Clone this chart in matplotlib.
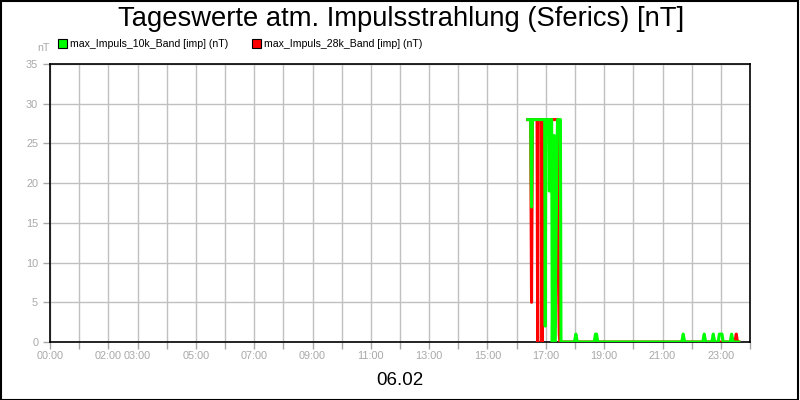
import matplotlib.pyplot as plt
from matplotlib.patches import Patch, Rectangle

plt.rcParams['font.family'] = ['Liberation Sans', 'DejaVu Sans']

# hours of the day and values (nT)
t_10k = [16.38, 16.48, 16.51, 16.54, 16.96, 16.98, 17.00, 17.10, 17.12, 17.14,
         17.20, 17.22, 17.29, 17.31, 17.40, 17.50, 17.52, 17.98, 18.03, 18.08,
         18.66, 18.70, 18.74, 18.78, 21.66, 21.71, 21.76, 22.38, 22.43, 22.48,
         22.69, 22.74, 22.79, 22.91, 22.95, 23.00, 23.04, 23.08, 23.32, 23.37,
         23.42, 23.62]
v_10k = [28, 28, 17, 28, 28, 2, 28, 28, 19, 28,
         28, 0, 26, 0, 28, 28, 0, 0, 1, 0,
         0, 1, 1, 0, 0, 1, 0, 0, 1, 0,
         0, 1, 0, 0, 1, 1, 1, 0, 0, 1,
         0, 0]

t_28k = [16.38, 16.48, 16.51, 16.54, 16.70, 16.72, 16.74, 16.85, 16.87, 16.89,
         17.13, 17.14, 17.15, 17.40, 17.43, 17.46, 17.48, 18.70, 18.72, 18.74,
         23.48, 23.53, 23.57, 23.62]
v_28k = [28, 28, 5, 28, 28, 0, 28, 28, 0, 28,
         28, 24, 28, 28, 9, 1, 0, 0, 0.3, 0,
         0, 1, 0, 0]

hour_ticks = list(range(25))
hour_labels = {0: '00:00', 2: '02:00', 3: '03:00', 5: '05:00', 7: '07:00',
               9: '09:00', 11: '11:00', 13: '13:00', 15: '15:00', 17: '17:00',
               19: '19:00', 21: '21:00', 23: '23:00'}
y_ticks = [0, 5, 10, 15, 20, 25, 30, 35]

names = ['max_Impuls_10k_Band [imp] (nT)', 'max_Impuls_28k_Band [imp] (nT)']
colors = ['#00ff00', '#ff0000']
grey = '#a8a8a8'

fig = plt.figure(figsize=(8, 4), dpi=100)
ax = fig.add_axes([0.0625, 0.145, 0.875, 0.695])

ax.plot(t_28k, v_28k, color=colors[1], lw=2.2, solid_joinstyle='round', zorder=3)
ax.plot(t_10k, v_10k, color=colors[0], lw=2.2, solid_joinstyle='round', zorder=4)

ax.set_xlim(0, 24)
ax.set_ylim(0, 35)
ax.set_xticks(hour_ticks)
ax.set_xticklabels([hour_labels.get(h, '') for h in hour_ticks])
ax.set_yticks(y_ticks)
ax.grid(True, color='#c0c0c0', lw=1)
ax.set_axisbelow(True)
ax.tick_params(colors=grey, labelsize=7.8, length=5, width=1)
ax.tick_params(axis='x', pad=1.5)
for s in ax.spines.values():
    s.set_color('black')
    s.set_linewidth(1.2)

fig.text(0.501, 0.953, 'Tageswerte atm. Impulsstrahlung (Sferics) [nT]',
         ha='center', va='center', fontsize=19.7)
fig.text(0.5, 0.048, '06.02', ha='center', va='center', fontsize=13.5)
fig.text(0.046, 0.881, 'nT', ha='left', va='center', fontsize=7.6, color=grey)

handles = [Patch(facecolor=c, edgecolor='black', lw=0.8) for c in colors]
fig.legend(handles, names, loc='center left', bbox_to_anchor=(0.072, 0.89),
           ncol=2, frameon=False, fontsize=7.6, handlelength=0.85,
           handleheight=0.85, handletextpad=0.35, columnspacing=2.2,
           borderpad=0, borderaxespad=0)

fig.patches.append(Rectangle((0.001, 0.001), 0.997, 0.996, transform=fig.transFigure,
                             fill=False, edgecolor='black', lw=1.5))

fig.savefig('out.png', dpi=100)
